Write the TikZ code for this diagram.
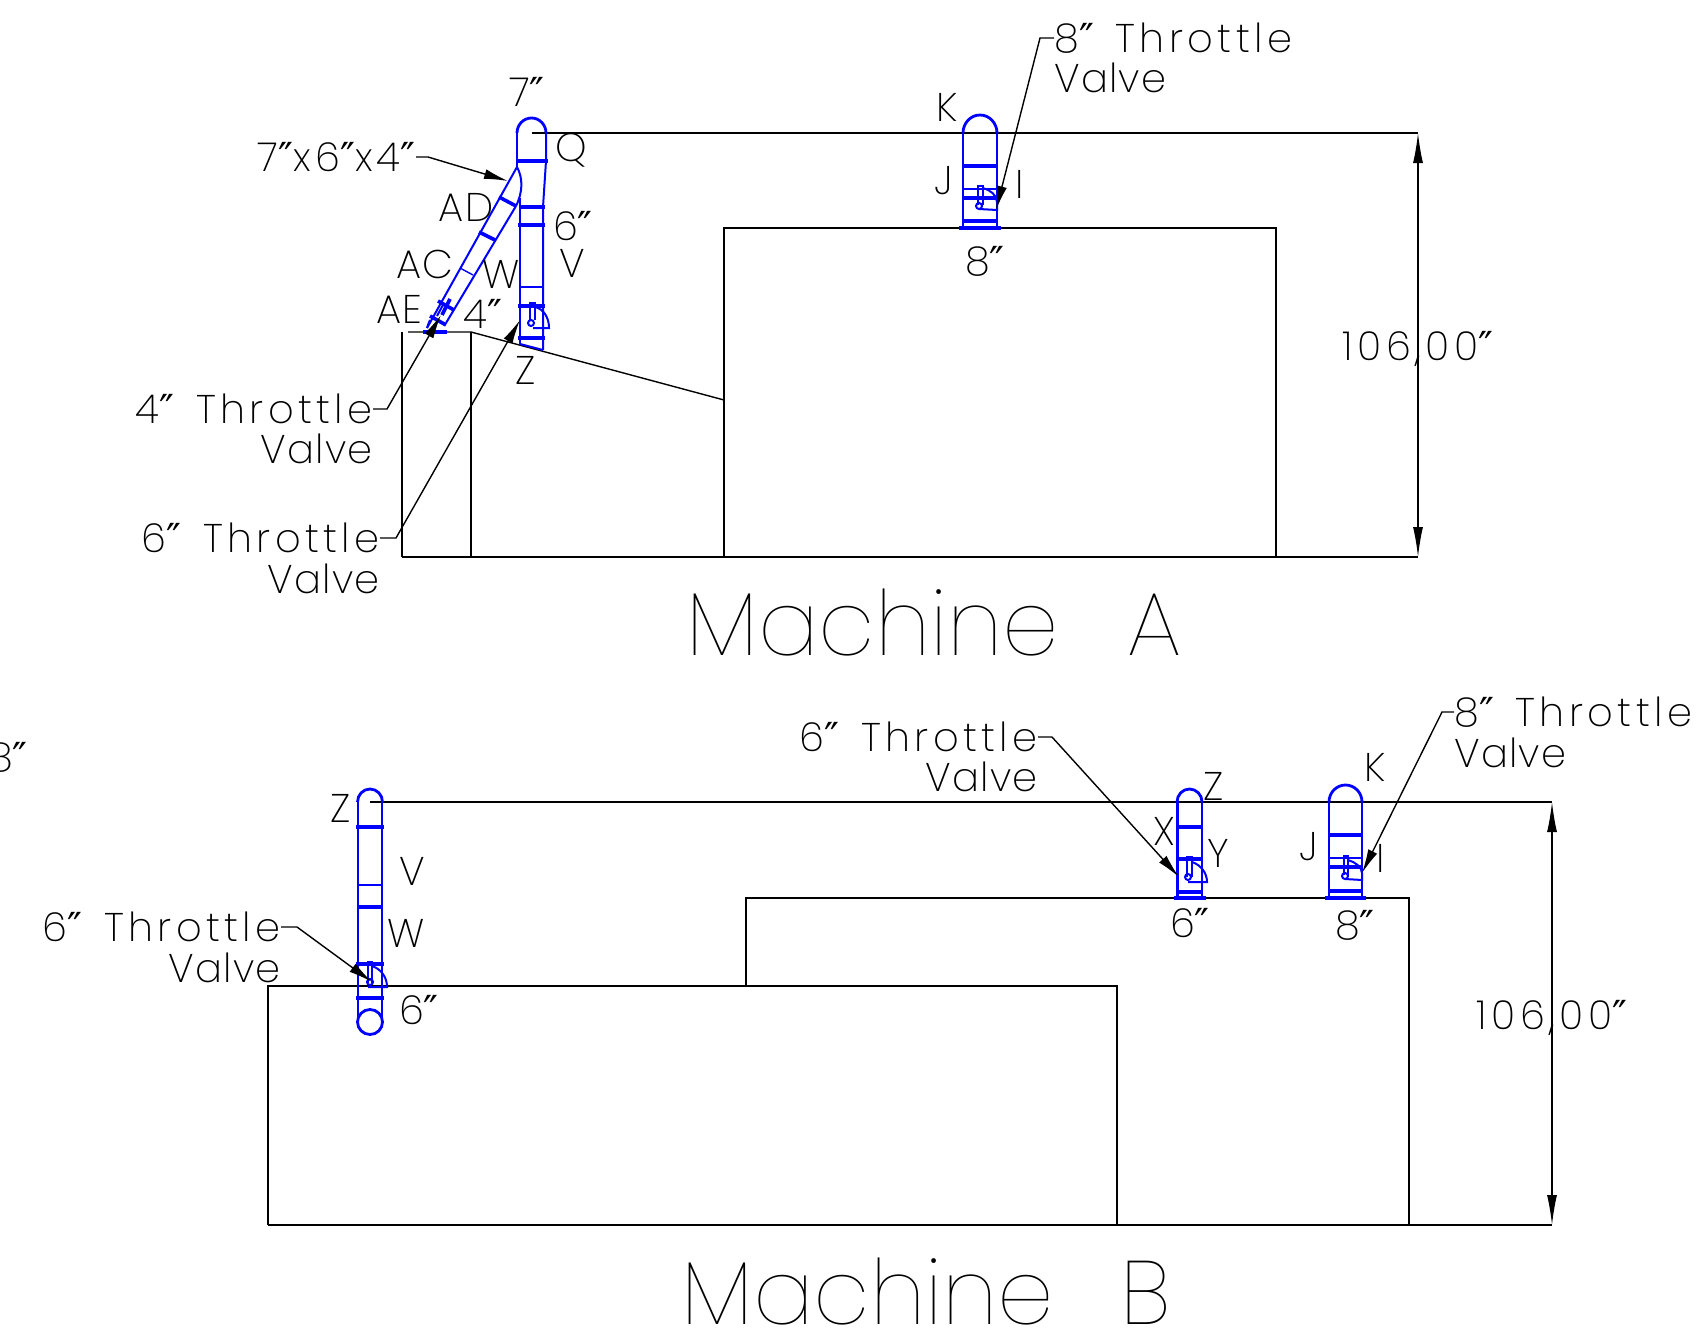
\documentclass[tikz,border=0pt]{standalone}
\usepackage{fontspec}
\usetikzlibrary{arrows.meta}
\newfontfamily\cadfont[LetterSpace=3]{Poppins ExtraLight}
\newfontfamily\cadwide[LetterSpace=11]{Poppins ExtraLight}
\newfontfamily\cadbig{Poppins Thin}
\newfontfamily\qfont{DejaVu Sans}
\newcommand{\qq}{{\qfont\fontsize{20}{22}\selectfont ″}}
\definecolor{pipeblue}{RGB}{0,0,255}
\tikzset{
  lbl/.style={inner sep=0pt,font=\cadfont\fontsize{20}{22}\selectfont,text=black},
  lblw/.style={inner sep=0pt,font=\cadwide\fontsize{20}{22}\selectfont,text=black},
  titlelbl/.style={inner sep=0pt,font=\cadbig\fontsize{45}{50}\selectfont,text=black},
  ln/.style={draw=black,line width=0.7pt},
  leader/.style={draw=black,line width=0.7pt,-{Latex[length=12pt,width=5pt]}},
  dimm/.style={draw=black,line width=0.7pt,{Latex[length=15pt,width=5pt]}-{Latex[length=15pt,width=5pt]}},
  pipe/.style={draw=pipeblue,line width=1pt},
  thinpipe/.style={draw=pipeblue,line width=0.7pt},
  flange/.style={draw=pipeblue,line width=1.8pt},
  pipecap/.style={draw=pipeblue,line width=1.4pt},
}
\begin{document}
\begin{tikzpicture}[x=0.5pt,y=-0.5pt]
\useasboundingbox (0,0) rectangle (1696,1338);
% ---- Machine A outline
\draw[ln] (532,133) -- (1418,133);
\draw[ln] (402,557) -- (1418,557);
\draw[ln] (724,557) -- (724,228) -- (1276,228) -- (1276,557);
\draw[ln] (402,557) -- (402,332);
\draw[ln] (408,332) -- (471,332) -- (724,400);
\draw[ln] (471,332) -- (471,557);
\coordinate (dA1) at (1418,133); \coordinate (dA2) at (1418,557);
\draw[dimm] (dA1) -- (dA2);
% ---- Pipe A main
\draw[pipecap] (517,133) arc[start angle=180,end angle=360,x radius=14.5,y radius=15];
\draw[pipe] (517,133) -- (517,167);
\draw[pipe] (546,133) -- (546,161) -- (543,207) -- (543,350);
\draw[pipe] (517,167) .. controls (523,178) and (523,192) .. (516,206);
\draw[pipe] (520,198) -- (520,344);
\draw[flange] (516,161) -- (548,161);
\draw[flange] (519,207) -- (545,207);
\draw[flange] (518,225) -- (545,225);
\draw[thinpipe] (520,287) -- (543,287);
\draw[flange] (518,306) -- (545,306);
\draw[flange] (518,338) -- (545,338);
\draw[pipe] (520,344) -- (543,350);
% valve A main
\draw[pipe] (530,320) -- (530,303) -- (535,303) -- (535,320);
\draw[pipe] (531,323) circle[radius=3];
\draw[pipe] (535,307) .. controls (544,309) and (549,318) .. (549,328) -- (533,328);
% ---- Branch
\draw[pipe] (517,167) -- (427,328);
\draw[pipe] (516,206) -- (446,323);
\draw[flange] (499,197) -- (516,206);
\draw[flange] (479,232) -- (495,240);
\draw[thinpipe] (460,268) -- (473,275);
\draw[flange] (438,301) -- (454,310);
\draw[flange] (430,316) -- (446,325);
\draw[flange] (423,332) -- (447,332);
\draw[pipe] (427,328) .. controls (428,325) and (429,322) .. (430,320);
\draw[flange] (450,299) -- (442,315);
\draw[pipe] (444,303) -- (437,316);
% ---- Pipe A2
\draw[pipecap] (963,133) arc[start angle=180,end angle=360,x radius=17,y radius=18];
\draw[pipecap] (963,133) -- (963,228);
\draw[pipecap] (997,133) -- (997,228);
\draw[flange] (963,166) -- (997,166);
\draw[pipe] (963,189) -- (997,189);
\draw[flange] (963,198) -- (997,198);
\draw[flange] (963,221) -- (997,221);
\draw[flange] (959,228) -- (1001,228);
\draw[pipe] (978,205) -- (978,186) -- (983,186) -- (983,205);
\draw[pipe] (979,206) circle[radius=3];
\draw[pipe] (983,188) .. controls (990,190) and (997,195) .. (997,202) -- (997,210) -- (979,209);
% ---- Machine B outline
\draw[ln] (370,802) -- (1552,802);
\draw[ln] (268,1225) -- (1552,1225);
\draw[ln] (268,1225) -- (268,986) -- (1117,986) -- (1117,1225);
\draw[ln] (746,986) -- (746,898) -- (1409,898) -- (1409,1225);
\coordinate (dB1) at (1552,802); \coordinate (dB2) at (1552,1225);
\draw[dimm] (dB1) -- (dB2);
% ---- Pipe B1
\draw[pipecap] (357.5,802) arc[start angle=180,end angle=360,x radius=12.5,y radius=13];
\draw[pipe] (358,802) -- (358,1022);
\draw[pipe] (382,802) -- (382,1022);
\draw[flange] (356,827) -- (384,827);
\draw[thinpipe] (358,885) -- (382,885);
\draw[flange] (357,907) -- (383,907);
\draw[flange] (356,964) -- (384,964);
\draw[flange] (356,998) -- (384,998);
\draw[pipecap] (370,1022) circle[radius=12.5];
\draw[pipe] (368,983) -- (368,962) -- (372,962) -- (372,983);
\draw[pipe] (370,982) circle[radius=3];
\draw[pipe] (372,966) .. controls (381,969) and (387,977) .. (387,987) -- (368,987);
% ---- Pipe B2
\draw[pipecap] (1177,802) arc[start angle=180,end angle=360,x radius=12.5,y radius=13];
\draw[pipecap] (1177.5,802) -- (1177.5,898);
\draw[pipe] (1202,802) -- (1202,898);
\draw[flange] (1176,827) -- (1203,827);
\draw[flange] (1176,859) -- (1203,859);
\draw[flange] (1176,892) -- (1203,892);
\draw[flange] (1174,898) -- (1206,898);
\draw[pipe] (1187,877) -- (1187,857) -- (1192,857) -- (1192,877);
\draw[pipe] (1188,877) circle[radius=3];
\draw[pipe] (1192,862) .. controls (1201,865) and (1207,873) .. (1207,882) -- (1188,882);
% ---- Pipe B3
\draw[pipecap] (1329,802) arc[start angle=180,end angle=360,x radius=16.5,y radius=17];
\draw[pipecap] (1329,802) -- (1329,898);
\draw[pipecap] (1362,802) -- (1362,898);
\draw[flange] (1329,835) -- (1362,835);
\draw[pipe] (1329,858) -- (1362,858);
\draw[flange] (1329,867) -- (1362,867);
\draw[flange] (1329,891) -- (1362,891);
\draw[flange] (1325,898) -- (1366,898);
\draw[pipe] (1344,875) -- (1344,856) -- (1348,856) -- (1348,875);
\draw[pipe] (1345,876) circle[radius=3];
\draw[pipe] (1348,860) .. controls (1355,862) and (1362,867) .. (1362,873) -- (1362,880) -- (1345,879);
% ---- Labels Machine A
\node[lblw,anchor=west] (t8a) at (1054,38) {8\qq{}\hspace{3pt} Throttle};
\node[lbl,anchor=west] (t8b) at (1054,78) {Valve};
\node[lbl] (n7) at (527,92) {7\qq};
\node[lbl] (nK) at (947,107) {K};
\node[lbl] (nQ) at (571,150) {Q};
\node[lblw,anchor=east] (n764) at (416,157) {7\qq x6\qq x4\qq};
\node[lbl] (nAD) at (466,207) {AD};
\node[lbl] (n6a) at (573,226) {6\qq};
\node[lbl] (nV) at (572,263) {V};
\node[lbl] (nW) at (501,274) {W};
\node[lbl] (nAC) at (425,264) {AC};
\node[lbl] (nAE) at (399,309) {AE};
\node[lbl] (n4a) at (483,314) {4\qq};
\node[lbl] (nZ) at (526,370) {Z};
\node[lbl] (nJ) at (944,181) {J};
\node[lbl] (nI) at (1020,184) {I};
\node[lbl] (n8a) at (985,261) {8\qq};
\node[lblw,anchor=east] (t4a) at (373,409) {4\qq{}\hspace{3pt} Throttle};
\node[lbl,anchor=east] (t4b) at (373,449) {Valve};
\node[lblw,anchor=east] (t6a) at (380,538) {6\qq{}\hspace{3pt} Throttle};
\node[lbl,anchor=east] (t6b) at (380,579) {Valve};
\node[lblw] (dimA) at (1418,349) {106,00\qq};
\node[titlelbl,anchor=west] (mA) at (686,623) {Machine\hspace{34pt}A};
% ---- Labels Machine B
\node[lbl,anchor=east] (n8c) at (28,757) {8\qq};
\node[lblw,anchor=east] (b6a) at (1038,737) {6\qq{}\hspace{3pt} Throttle};
\node[lbl,anchor=east] (b6b) at (1038,777) {Valve};
\node[lblw,anchor=west] (b8a) at (1454,712) {8\qq{}\hspace{3pt} Throttle};
\node[lbl,anchor=west] (b8b) at (1454,753) {Valve};
\node[lbl] (bK) at (1375,767) {K};
\node[lbl] (bJ) at (1309,847) {J};
\node[lbl] (bI) at (1381,858) {I};
\node[lbl] (b8) at (1355,925) {8\qq};
\node[lbl] (bZ2) at (1214,786) {Z};
\node[lbl] (bX) at (1164,831) {X};
\node[lbl] (bY) at (1218,853) {Y};
\node[lbl] (b62) at (1190,923) {6\qq};
\node[lbl] (bZ) at (341,808) {Z};
\node[lbl] (bV) at (412,871) {V};
\node[lbl] (bW) at (406,933) {W};
\node[lbl] (b61) at (419,1010) {6\qq};
\node[lblw,anchor=east] (c6a) at (281,927) {6\qq{}\hspace{3pt} Throttle};
\node[lbl,anchor=east] (c6b) at (281,968) {Valve};
\node[lblw] (dimB) at (1552,1018) {106,00\qq};
\node[titlelbl,anchor=west] (mB) at (681,1291) {Machine\hspace{33pt}B};
% ---- Leaders
\coordinate (lt1) at (996,210);
\coordinate (lt2) at (508,181);
\coordinate (lt3) at (441,315);
\coordinate (lt4) at (520,320);
\coordinate (lt5) at (1179,877);
\coordinate (lt6) at (1362,873);
\coordinate (lt7) at (372,982);
\coordinate (e1) at (1040,38);
\coordinate (e2) at (428,157);
\coordinate (e3) at (387,409);
\coordinate (e4) at (396,538);
\coordinate (e5) at (1052,737);
\coordinate (e6) at (1442,712);
\coordinate (e7) at (297,927);
\draw[leader] (t8a.west) -- (e1) -- (lt1);
\draw[leader] (n764.east) -- (e2) -- (lt2);
\draw[leader] (t4a.east) -- (e3) -- (lt3);
\draw[leader] (t6a.east) -- (e4) -- (lt4);
\draw[leader] (b6a.east) -- (e5) -- (lt5);
\draw[leader] (b8a.west) -- (e6) -- (lt6);
\draw[leader] (c6a.east) -- (e7) -- (lt7);
\end{tikzpicture}
\end{document}
